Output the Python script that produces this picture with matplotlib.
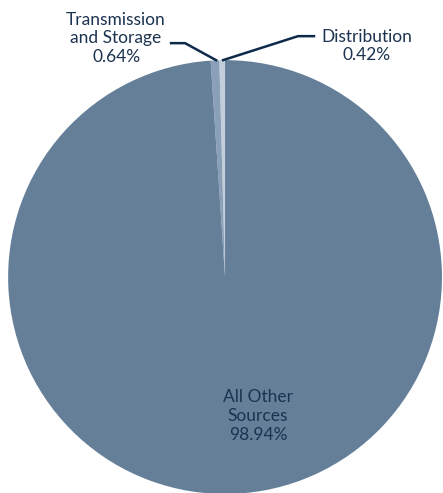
import matplotlib.pyplot as plt

# Data
labels = ["Distribution", "Transmission\nand Storage", "All Other\nSources"]
shares = [0.42, 0.64, 98.94]
colors = ["#c3cedb", "#8aa0b8", "#657f99"]
text_color = "#1c3350"

plt.rcParams['font.family'] = ['Lato', 'DejaVu Sans']

fig = plt.figure(figsize=(4.43, 4.93), dpi=100)
ax = fig.add_axes([0.018, -0.002, 0.98, 0.88])
ax.pie(shares, colors=colors, startangle=90, counterclock=True, radius=1)
ax.set_xlim(-1, 1)
ax.set_ylim(-1, 1)
ax.set_aspect('equal')
ax.axis('off')


def px(x, y):
    # pixel position in reference -> data coords
    return ((x - 225) / 217, (277 - y) / 217)


# Leader lines
for pts in [[(216, 60), (185, 43), (171, 43)], [(223, 60), (298, 36), (314, 36)]]:
    xs, ys = zip(*[px(*p) for p in pts])
    ax.plot(xs, ys, color="#0d2a4a", lw=1.8, clip_on=False)

fs = 12.5
ls = 1.2
ax.text(*px(116, 38), f"{labels[1]}\n{shares[1]:.2f}%", ha="center", va="center",
        fontsize=fs, color=text_color, linespacing=ls)
ax.text(*px(367, 46), f"{labels[0]}\n{shares[0]:.2f}%", ha="center", va="center",
        fontsize=fs, color=text_color, linespacing=ls)
ax.text(*px(258, 416), f"{labels[2]}\n{shares[2]:.2f}%", ha="center", va="center",
        fontsize=fs, color=text_color, linespacing=ls)

plt.savefig("out.png", dpi=100, facecolor="white")
